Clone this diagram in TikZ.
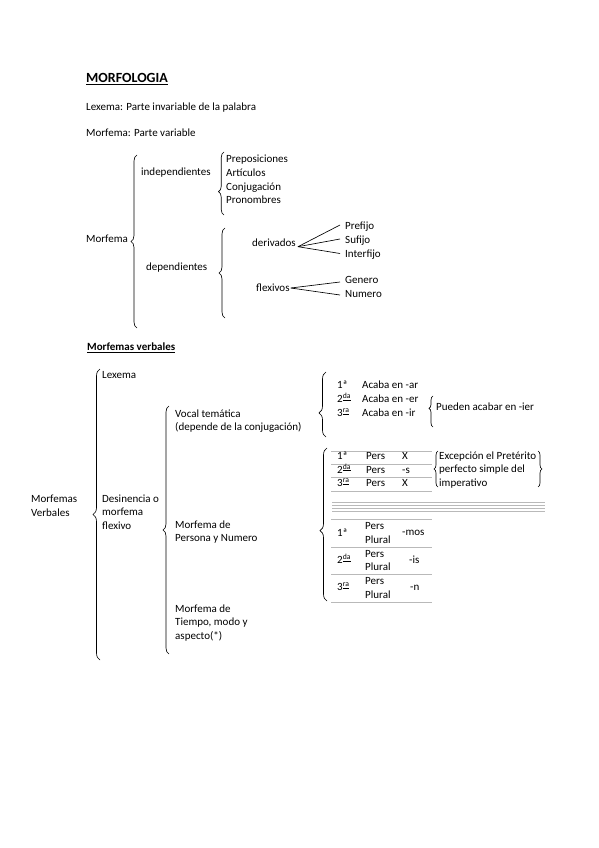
\documentclass[tikz,border=0pt]{standalone}
\usepackage{fontspec}
\setmainfont{Carlito}
\usetikzlibrary{decorations.pathreplacing}

\begin{document}
\begin{tikzpicture}[x=1pt,y=-1pt,
  every node/.style={inner sep=0pt,font=\fontsize{11}{13.6}\selectfont},
  lbl/.style={anchor=west,text height=7.7pt,text depth=2.3pt},
  blk/.style={anchor=west,align=left},
  titulo/.style={lbl,font=\fontsize{11}{13.6}\selectfont\bfseries},
  brc/.style={decorate,decoration={brace,amplitude=6pt,#1},line width=0.65pt},
  brc/.default={aspect=0.5},
  rule/.style={gray!55,line width=1pt},
  branch/.style={line width=0.65pt}]
  \useasboundingbox (0,0) rectangle (599,848);

  \node[lbl,font=\fontsize{14}{16}\selectfont\bfseries] (morfologia) at (86,80) {\underline{MORFOLOGIA}};
  \node[lbl] (lexdef) at (86,108) {Lexema: Parte invariable de la palabra};
  \node[lbl] (morfdef) at (86,134) {Morfema: Parte variable};

  \node[lbl] (morfema) at (86,240) {Morfema};
  \draw[brc] (137,328) -- (137,155);
  \node[lbl] (indep) at (141,173) {independientes};
  \draw[brc={aspect=0.37,amplitude=5.5pt}] (224,215) -- (224,152);
  \node[blk] (listaindep) at (226,179.5) {Preposiciones\\Artículos\\Conjugación\\Pronombres};
  \node[lbl] (dep) at (146,268) {dependientes};
  \draw[brc] (225,318) -- (225,228);

  \node[lbl] (deriv) at (252,244) {derivados};
  \node[lbl] (prefijo) at (345,227) {Prefijo};
  \node[lbl] (sufijo) at (345,241) {Sufijo};
  \node[lbl] (interfijo) at (345,254.5) {Interfijo};
  \draw[branch] ([xshift=2pt]deriv.base east) -- ([xshift=-5pt,yshift=2pt]prefijo.west);
  \draw[branch] ([xshift=2pt]deriv.base east) -- ([xshift=-5pt,yshift=2pt]sufijo.west);
  \draw[branch] ([xshift=2pt]deriv.base east) -- ([xshift=-5pt,yshift=1pt]interfijo.west);

  \node[lbl] (flex) at (256,289) {flexivos};
  \node[lbl] (genero) at (345,281) {Genero};
  \node[lbl] (numero) at (345,295) {Numero};
  \draw[branch] ([xshift=1pt,yshift=1pt]flex.east) -- ([xshift=-5pt,yshift=-1pt]genero.west);
  \draw[branch] ([xshift=1pt,yshift=1pt]flex.east) -- ([xshift=-5pt]numero.west);

  \node[titulo] (verbtit) at (87,348) {\underline{Morfemas verbales}};
  \node[blk] (morfverb) at (31,505.5) {Morfemas\\Verbales};
  \draw[brc={amplitude=7pt}] (100,660) -- (100,369);
  \node[lbl] (lexema) at (102,376) {Lexema};
  \node[blk] (desin) at (102,512) {Desinencia o\\morfema\\flexivo};
  \draw[brc] (169,654) -- (169,406);
  \node[blk] (vocal) at (175,421) {Vocal temática\\(depende de la conjugación)};
  \node[blk] (persnum) at (175,532) {Morfema de\\Persona y Numero};
  \node[blk] (tiempo) at (175,623) {Morfema de\\Tiempo, modo y\\aspecto(*)};

  \draw[brc={aspect=0.37,amplitude=7pt}] (326,437) -- (326,372);
  \node[lbl] (conj1) at (337,386) {1ª};
  \node[lbl] (conj2) at (337,400) {2\textsuperscript{\underline{da}}};
  \node[lbl] (conj3) at (337,414) {3\textsuperscript{\underline{ra}}};
  \node[lbl] (acaba1) at (362,386) {Acaba en -ar};
  \node[lbl] (acaba2) at (362,400) {Acaba en -er};
  \node[lbl] (acaba3) at (362,414) {Acaba en -ir};
  \draw[brc={aspect=0.6,amplitude=4pt}] (433,427) -- (433,396);
  \node[lbl] (pueden) at (436,408) {Pueden acabar en -ier};

  \draw[brc={aspect=0.46,amplitude=7pt}] (327,601) -- (327,448);
  \draw[rule] (331,451) -- (432,451) (331,464) -- (432,464)
    (331,477.5) -- (432,477.5) (331,491) -- (432,491);
  \node[lbl] (sing1) at (337,457) {1ª};
  \node[lbl] (sing2) at (337,470.5) {2\textsuperscript{\underline{da}}};
  \node[lbl] (sing3) at (337,484) {3\textsuperscript{\underline{ra}}};
  \node[lbl] (pers1) at (366,457) {Pers};
  \node[lbl] (pers2) at (366,470.5) {Pers};
  \node[lbl] (pers3) at (366,484) {Pers};
  \node[lbl] (des1) at (402,457) {X};
  \node[lbl] (des2) at (402,470.5) {-s};
  \node[lbl] (des3) at (402,484) {X};
  \draw[brc={amplitude=4pt}] (438,487) -- (438,451);
  \node[blk] (excep) at (439,470) {Excepción el Pretérito\\perfecto simple del\\imperativo};
  \draw[brc={amplitude=4pt}] (538,451) -- (538,487);

  \draw[rule] (332,502) -- (545,502) (332,505) -- (545,505)
    (332,508) -- (545,508) (332,511) -- (545,511);

  \draw[rule] (331,519.5) -- (432,519.5) (331,547.5) -- (432,547.5)
    (331,574.5) -- (432,574.5) (331,602) -- (432,602);
  \node[lbl] (plur1) at (337,534) {1ª};
  \node[lbl] (plur2) at (337,561) {2\textsuperscript{\underline{da}}};
  \node[lbl] (plur3) at (337,588) {3\textsuperscript{\underline{ra}}};
  \node[blk] (perspl1) at (365,533) {Pers\\Plural};
  \node[blk] (perspl2) at (365,560.5) {Pers\\Plural};
  \node[blk] (perspl3) at (365,588) {Pers\\Plural};
  \node[lbl] (despl1) at (402,533) {-mos};
  \node[lbl] (despl2) at (409,561) {-is};
  \node[lbl] (despl3) at (410,588) {-n};
\end{tikzpicture}
\end{document}
